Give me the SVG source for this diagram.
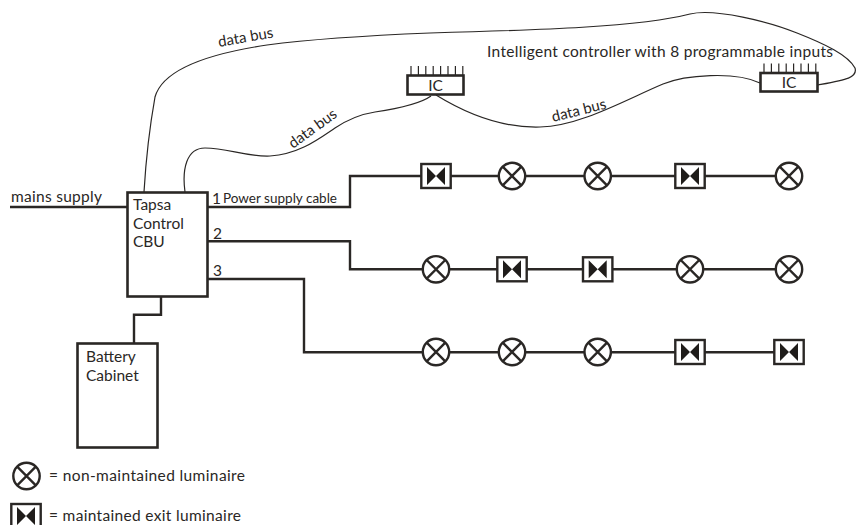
<svg xmlns="http://www.w3.org/2000/svg" xmlns:xlink="http://www.w3.org/1999/xlink" width="860" height="525" viewBox="0 0 860 525">
<style>
.t{font-family:"Lato","Open Sans",sans-serif;font-size:15.500px;font-weight:400;fill:#2a2725}
.s{font-size:15px}
.w{fill:none;stroke:#2a2725;stroke-width:2.4}
.bus{fill:none;stroke:#2a2725;stroke-width:1.2}
.box{fill:#fff;stroke:#2a2725;stroke-width:2.6}
.lum{fill:#fff;stroke:#2a2725;stroke-width:2.4}
.bow{fill:#1f1c1a}
</style>
<defs>
<g id="x"><circle class="lum" r="13.200"/><path class="w" d="M-9.300-9.300 9.300 9.300M-9.300 9.300 9.300-9.300"/></g>
<g id="e"><rect class="lum" x="-14.700" y="-12" width="29.400" height="24"/><path class="bow" d="M-9-9-9 9 0 0 9 9 9-9 0 0Z"/></g>
<path id="pins" class="bus" d="M0 0v9M7.400 0v9M14.800 0v9M22.200 0v9M29.600 0v9M37 0v9M44.400 0v9M51.800 0v9"/>
</defs>
<g id="connectors">
<path class="w" d="M10 207H127M208 207H350V176H790"/>
<path class="w" d="M208 241.300H350V269.300H790"/>
<path class="w" d="M208 279H304V352.300H790"/>
<path class="w" d="M161 297V314.700H134V343"/>
<path class="bus" d="M144 192C146 158 150 125 155 97C162 72 200 55 267 45C320 38 380 35 430 33C540 30 640 27 690 14C715 8 770 22 797 33C825 44 848 55 855 68C858 78 845 80 818 85"/>
<path class="bus" d="M185 192C182 170 186 148 205 148C228 148 245 157 270 156C300 154 320 138 335 128C350 118 362 114 375 112C395 109 420 104 431 96"/>
<path class="bus" d="M436 95C470 116 505 128 540 127C580 126 625 100 663 84C685 75 735 71 760 83"/>
</g>
<g id="mains-label"><text class="t" x="11" y="202" textLength="91">mains supply</text></g>
<g id="cbu"><rect class="box" x="127.500" y="192.500" width="80" height="104"/><text class="t" x="133" y="210">Tapsa</text><text class="t" x="133" y="229">Control</text><text class="t" x="133" y="247">CBU</text></g>
<g id="battery"><rect class="box" x="77.500" y="343.500" width="80" height="104"/><text class="t" x="86" y="362">Battery</text><text class="t" x="86" y="381">Cabinet</text></g>
<g id="outlet-labels"><text class="t" x="212" y="204">1</text><text class="t" style="font-size:13.500px" x="223" y="203" textLength="114">Power supply cable</text><text class="t" x="213" y="239">2</text><text class="t" x="213" y="276">3</text></g>
<g id="ic1"><use xlink:href="#pins" href="#pins" x="411" y="66"/><rect class="box" x="407.500" y="75.500" width="56" height="19"/><text class="t" x="435.500" y="91" text-anchor="middle">IC</text></g>
<g id="ic2"><use xlink:href="#pins" href="#pins" x="764" y="63.500"/><rect class="box" x="760.500" y="73" width="57" height="18.500"/><text class="t" x="789" y="88" text-anchor="middle">IC</text></g>
<g id="bus-labels">
<text class="t" x="487" y="57" textLength="346">Intelligent controller with 8 programmable inputs</text>
<text class="t s" transform="translate(219 47) rotate(-10)">data bus</text>
<text class="t s" transform="translate(293 149) rotate(-36)">data bus</text>
<text class="t s" transform="translate(553 122) rotate(-14)">data bus</text>
</g>
<g id="row1"><use href="#e" x="436" y="176"/><use href="#x" x="512" y="176"/><use href="#x" x="597.700" y="176"/><use href="#e" x="690" y="176"/><use href="#x" x="789" y="176"/></g>
<g id="row2"><use href="#x" x="436" y="269.300"/><use href="#e" x="512" y="269.300"/><use href="#e" x="597.700" y="269.300"/><use href="#x" x="690" y="269.300"/><use href="#x" x="789" y="269.300"/></g>
<g id="row3"><use href="#x" x="436" y="352"/><use href="#x" x="512" y="352"/><use href="#x" x="597.700" y="352"/><use href="#e" x="690" y="352"/><use href="#e" x="789" y="352"/></g>
<g id="legend-x"><use href="#x" x="26.500" y="476"/><text class="t" x="49" y="481" textLength="196">= non-maintained luminaire</text></g>
<g id="legend-e"><use href="#e" x="26" y="516"/><text class="t" x="49" y="521" textLength="192">= maintained exit luminaire</text></g>
</svg>
